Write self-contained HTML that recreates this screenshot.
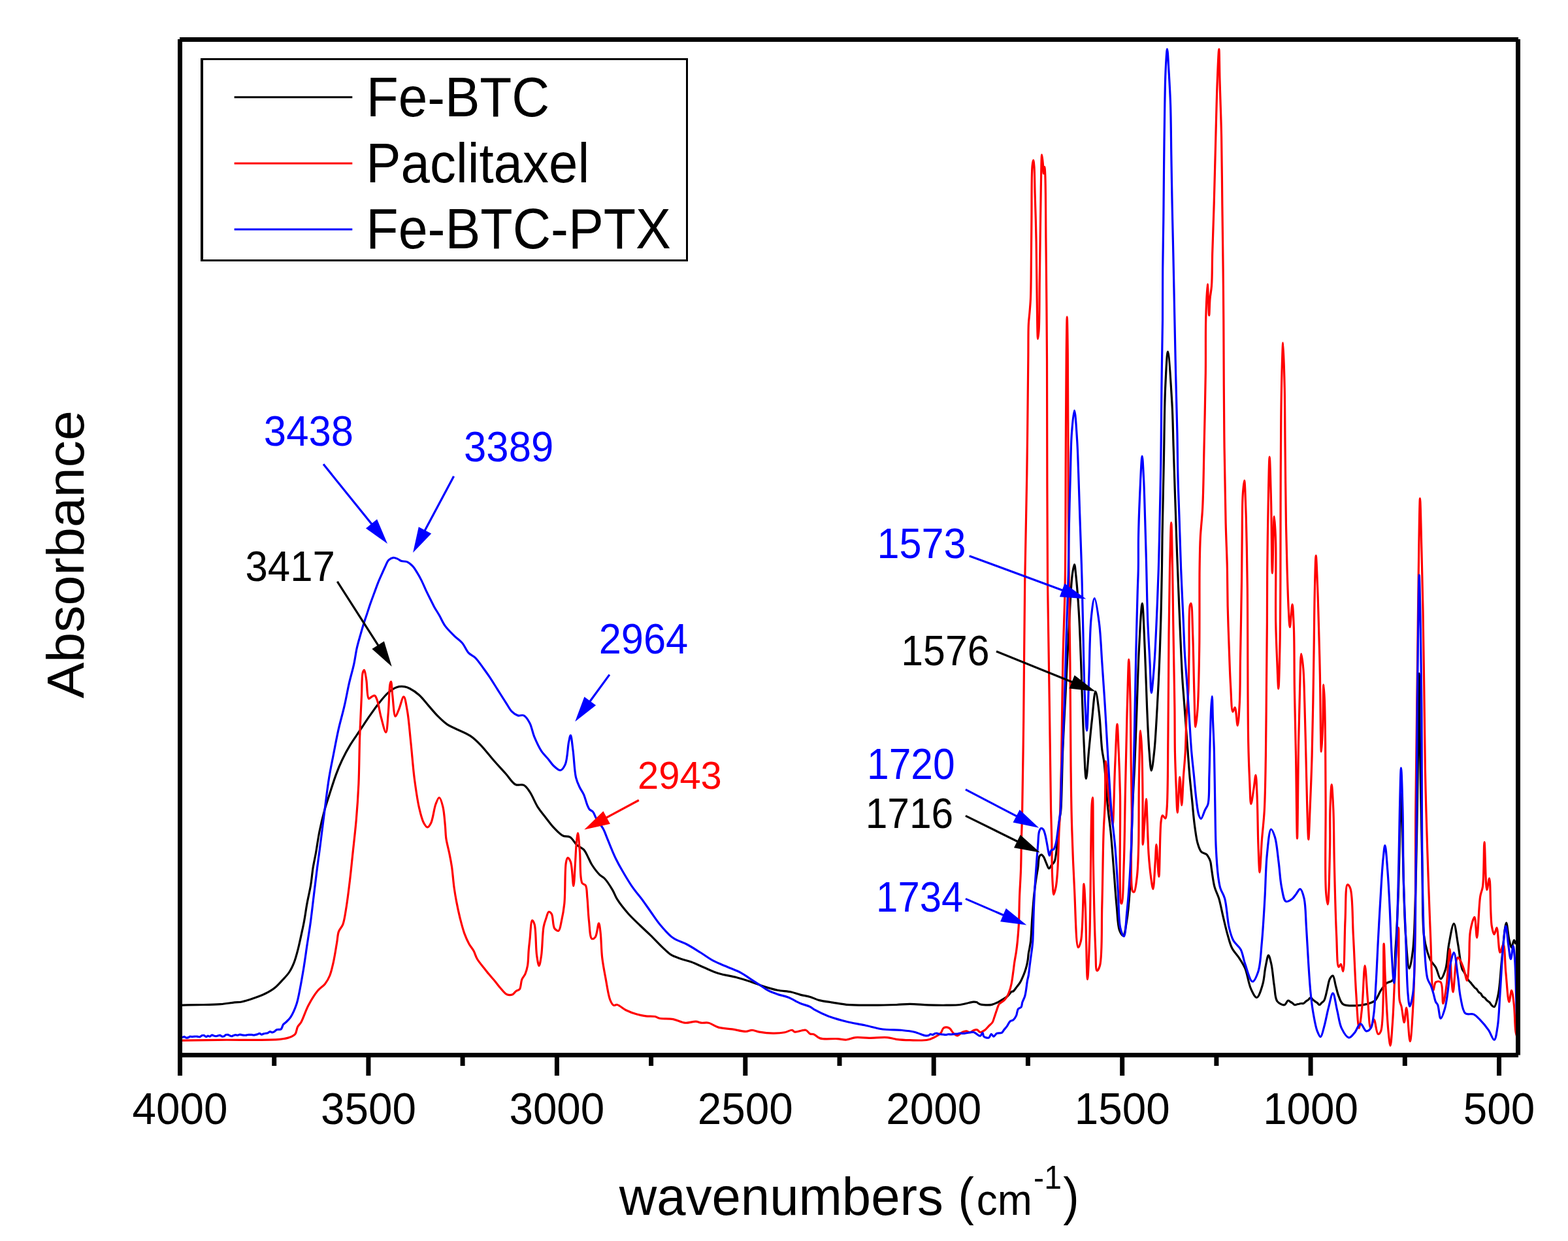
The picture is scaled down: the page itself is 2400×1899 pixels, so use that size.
<!DOCTYPE html>
<html><head><meta charset="utf-8"><title>FTIR spectra</title>
<style>
html,body{margin:0;padding:0;background:#fff;}
body{width:2400px;height:1899px;overflow:hidden;}
svg{display:block;}
text{font-family:"Liberation Sans",Arial,sans-serif;}
.tick{font-size:66px;text-anchor:middle;fill:#000;}
.leg{font-size:82px;fill:#000;}
.ytitle{font-size:81px;text-anchor:middle;fill:#000;}
.xtitle{font-size:82px;fill:#000;}
</style></head>
<body>
<svg width="2400" height="1899" viewBox="0 0 2400 1899">
<rect x="0" y="0" width="2400" height="1899" fill="#fff"/>
<path d="M279.0,1538.1C286.9,1537.9 294.1,1537.8 302.7,1537.6C313.1,1537.4 327.1,1537.5 337.3,1536.7C345.4,1536.1 353.1,1534.5 359.1,1533.9C363.4,1533.5 365.9,1533.8 370.0,1533.0C375.3,1532.0 382.2,1529.7 388.2,1527.6C394.3,1525.5 400.8,1523.1 406.4,1520.3C411.7,1517.6 416.7,1514.7 421.0,1511.2C425.1,1507.9 428.3,1504.1 431.9,1500.2C435.6,1496.2 439.8,1492.1 442.8,1487.5C445.8,1483.0 448.0,1478.1 450.1,1472.9C452.3,1467.3 453.9,1461.2 455.6,1454.7C457.5,1447.4 459.3,1438.8 461.0,1431.1C462.6,1423.7 464.2,1416.9 465.6,1409.2C467.2,1400.6 468.4,1391.0 470.1,1381.9C471.8,1372.8 474.1,1363.7 475.6,1354.6C477.1,1345.5 477.8,1335.9 479.2,1327.3C480.5,1319.5 482.0,1313.2 483.5,1305.0C485.3,1295.1 486.8,1282.9 489.0,1272.2C491.1,1261.7 493.7,1250.9 496.3,1241.4C498.6,1233.0 500.9,1226.3 503.6,1217.8C506.8,1207.8 510.8,1194.8 514.4,1185.1C517.4,1177.0 520.0,1170.6 523.5,1163.3C527.2,1155.5 531.6,1147.3 536.2,1139.7C540.7,1132.2 545.9,1125.2 550.7,1118.0C555.6,1110.7 560.4,1103.3 565.3,1096.2C570.1,1089.3 574.8,1082.4 579.8,1076.2C584.5,1070.4 589.3,1064.2 594.3,1059.9C598.4,1056.4 602.6,1053.2 607.0,1051.7C611.1,1050.3 616.1,1050.3 619.7,1050.8C622.5,1051.2 624.3,1052.1 627.0,1053.5C631.1,1055.6 636.9,1059.4 641.5,1063.5C646.6,1068.0 651.2,1074.4 656.0,1079.9C660.8,1085.3 665.5,1091.2 670.5,1096.2C675.2,1100.9 680.1,1105.6 685.0,1108.9C689.2,1111.7 692.9,1112.8 697.7,1115.2C704.1,1118.3 713.6,1121.8 720.0,1126.1C725.6,1129.9 729.4,1133.6 734.5,1138.8C741.3,1145.6 749.3,1156.3 756.3,1164.2C762.6,1171.3 768.7,1177.9 774.4,1184.2C779.5,1189.9 783.7,1197.9 789.0,1200.5C793.0,1202.5 798.1,1199.6 801.7,1201.4C805.4,1203.2 807.7,1207.1 810.7,1211.4C814.9,1217.4 818.9,1228.4 823.2,1235.1C826.7,1240.6 830.0,1244.3 833.8,1249.2C838.1,1254.7 842.9,1261.6 847.8,1266.7C852.3,1271.4 857.2,1276.8 861.9,1279.0C865.4,1280.7 869.2,1279.0 872.4,1280.8C876.4,1283.0 879.2,1289.8 883.0,1293.1C886.3,1296.0 890.6,1297.0 893.5,1300.1C896.5,1303.4 898.4,1308.4 900.5,1312.4C902.4,1316.0 903.4,1319.2 905.8,1323.0C908.9,1327.9 914.3,1335.1 918.1,1338.8C920.6,1341.2 922.7,1341.5 925.1,1344.0C928.9,1347.9 934.0,1355.9 937.4,1361.6C940.3,1366.4 941.2,1370.6 944.4,1375.7C948.7,1382.6 955.9,1391.6 962.0,1398.5C967.7,1404.9 973.8,1410.4 979.6,1416.0C985.0,1421.3 990.1,1425.7 995.6,1431.1C1001.8,1437.1 1009.3,1445.3 1015.0,1450.6C1019.1,1454.5 1022.0,1457.7 1026.1,1460.3C1030.3,1463.0 1035.0,1464.6 1040.0,1466.5C1045.6,1468.6 1051.9,1469.8 1058.1,1472.1C1064.9,1474.6 1071.9,1478.2 1078.9,1481.1C1085.8,1484.0 1092.2,1487.2 1099.8,1489.5C1108.3,1492.1 1119.0,1493.5 1127.6,1495.7C1135.1,1497.7 1141.5,1499.7 1148.4,1502.0C1155.4,1504.3 1162.3,1507.4 1169.3,1509.6C1176.2,1511.8 1183.1,1513.8 1190.1,1515.2C1197.0,1516.6 1204.8,1516.7 1211.0,1518.0C1216.1,1519.1 1220.1,1520.9 1224.8,1522.1C1229.7,1523.4 1235.1,1524.1 1240.0,1525.5C1244.8,1526.9 1248.7,1529.2 1253.9,1530.6C1260.1,1532.2 1267.8,1533.0 1274.7,1534.1C1281.7,1535.2 1287.7,1536.6 1295.6,1537.3C1305.7,1538.2 1318.2,1538.1 1330.3,1538.2C1343.6,1538.3 1360.5,1537.9 1372.0,1537.5C1380.1,1537.2 1385.4,1536.4 1392.8,1536.4C1401.4,1536.4 1411.3,1537.5 1420.6,1537.8C1429.9,1538.1 1439.8,1538.3 1448.4,1538.2C1455.9,1538.1 1463.1,1538.3 1469.3,1537.5C1474.4,1536.9 1479.4,1535.3 1483.2,1534.5C1485.9,1534.0 1487.9,1533.3 1490.0,1533.2C1491.7,1533.1 1493.2,1533.1 1494.7,1533.6C1496.3,1534.1 1497.5,1535.7 1499.4,1536.4C1501.9,1537.3 1505.6,1537.6 1508.7,1537.8C1511.8,1538.0 1515.0,1538.1 1518.1,1537.4C1521.3,1536.7 1524.4,1535.1 1527.5,1533.6C1530.7,1532.0 1534.1,1529.7 1536.8,1528.0C1538.9,1526.7 1540.6,1525.9 1542.4,1524.3C1544.4,1522.5 1546.4,1518.8 1548.1,1517.7C1549.1,1517.0 1549.9,1517.4 1550.9,1516.8C1552.4,1515.8 1553.9,1513.2 1555.5,1511.2C1557.3,1508.9 1559.6,1506.3 1561.2,1503.7C1562.7,1501.3 1563.7,1498.9 1564.9,1496.2C1566.2,1493.3 1567.6,1490.0 1568.7,1486.8C1569.8,1483.7 1570.7,1480.6 1571.5,1477.5C1572.3,1474.4 1572.8,1471.2 1573.3,1468.1C1573.8,1465.0 1573.8,1461.8 1574.3,1458.7C1574.8,1455.6 1575.6,1452.5 1576.1,1449.4C1576.7,1446.3 1577.1,1444.2 1577.6,1440.0C1578.5,1431.9 1579.0,1415.9 1579.9,1404.0C1580.8,1392.2 1581.7,1379.3 1582.8,1368.8C1583.7,1360.2 1584.7,1352.6 1585.8,1345.4C1586.7,1339.1 1587.8,1333.7 1588.7,1327.8C1589.6,1322.0 1589.3,1313.3 1591.0,1310.3C1591.8,1308.9 1593.0,1307.8 1594.0,1307.9C1595.1,1308.0 1596.5,1309.9 1597.5,1311.4C1598.9,1313.5 1599.7,1316.8 1601.0,1319.6C1602.4,1322.6 1604.1,1328.9 1605.7,1329.0C1606.9,1329.1 1607.9,1325.9 1609.2,1324.3C1610.6,1322.5 1612.8,1320.9 1613.9,1318.5C1615.3,1315.6 1615.6,1311.8 1616.2,1307.9C1617.0,1303.3 1617.4,1298.0 1618.0,1292.7C1618.6,1287.1 1619.1,1281.4 1619.7,1275.1C1620.4,1267.9 1621.3,1258.2 1622.1,1251.7C1622.7,1247.1 1623.3,1245.8 1623.8,1240.0C1625.2,1223.8 1625.5,1177.7 1626.8,1147.0C1628.0,1117.0 1629.7,1087.7 1631.2,1058.0C1632.7,1028.3 1634.0,998.7 1635.7,969.0C1637.4,939.3 1638.9,897.7 1641.2,880.0C1642.2,872.4 1643.6,863.8 1644.5,863.8C1645.4,863.8 1646.0,873.0 1646.8,880.0C1648.2,893.0 1650.0,915.5 1651.2,935.6C1652.7,959.4 1653.6,988.5 1654.6,1013.5C1655.5,1036.6 1656.0,1059.0 1656.8,1080.2C1657.5,1099.6 1658.1,1117.3 1659.0,1135.8C1659.9,1154.4 1661.0,1191.5 1662.4,1191.5C1663.7,1191.5 1665.3,1161.8 1666.8,1147.0C1668.3,1132.2 1669.6,1117.3 1671.3,1102.5C1673.0,1087.7 1674.8,1058.0 1676.8,1058.0C1678.5,1058.0 1680.9,1078.7 1682.4,1091.3C1684.4,1107.5 1685.1,1133.1 1686.8,1147.0C1687.8,1155.4 1688.9,1158.3 1690.0,1167.0C1691.9,1183.1 1693.7,1216.3 1695.7,1236.0C1697.2,1250.7 1698.8,1260.5 1700.2,1274.6C1701.9,1291.5 1703.2,1311.7 1704.7,1330.3C1706.2,1348.9 1707.4,1369.3 1709.1,1386.1C1710.5,1400.0 1710.6,1416.3 1713.6,1424.0C1715.1,1427.8 1717.6,1432.1 1719.2,1431.8C1721.6,1431.3 1723.0,1418.7 1724.5,1410.0C1726.6,1397.5 1727.9,1383.1 1729.2,1363.8C1731.4,1331.7 1732.0,1270.4 1733.5,1235.0C1734.5,1210.1 1735.7,1194.5 1736.7,1171.5C1737.9,1144.3 1739.0,1112.2 1740.1,1082.5C1741.2,1052.8 1741.9,1021.4 1743.4,993.5C1744.7,968.7 1746.8,923.4 1748.3,923.4C1749.8,923.4 1751.1,968.7 1752.3,993.5C1753.6,1021.4 1754.4,1055.0 1755.6,1082.5C1756.6,1106.3 1757.6,1131.4 1759.0,1149.2C1760.0,1161.2 1761.0,1179.2 1762.3,1179.2C1763.6,1179.2 1765.5,1161.2 1766.8,1149.2C1768.7,1131.4 1769.9,1104.7 1771.2,1082.5C1772.5,1060.2 1773.6,1038.0 1774.5,1015.7C1775.4,993.5 1776.2,972.5 1776.8,949.0C1777.5,922.6 1778.1,888.3 1778.5,865.0C1778.8,848.4 1778.7,840.1 1779.0,822.5C1779.5,793.7 1780.5,746.4 1781.3,708.3C1782.1,670.3 1782.2,625.5 1783.6,594.2C1784.6,572.2 1786.0,538.2 1787.5,538.2C1789.3,538.2 1792.4,591.6 1793.9,617.0C1795.3,640.6 1795.4,662.7 1796.2,685.5C1796.9,708.3 1797.7,731.2 1798.4,754.0C1799.2,776.8 1800.0,801.8 1800.7,822.5C1801.3,839.8 1801.8,852.2 1802.5,870.0C1803.4,893.0 1804.5,921.9 1805.7,949.0C1806.9,977.7 1808.3,1014.3 1809.7,1037.5C1810.6,1052.6 1811.6,1062.4 1812.5,1074.9C1813.4,1087.4 1814.4,1099.9 1815.3,1112.4C1816.2,1124.9 1817.2,1137.3 1818.1,1149.8C1819.0,1162.3 1819.8,1174.8 1820.9,1187.3C1822.0,1199.8 1823.4,1212.2 1824.6,1224.7C1825.9,1237.2 1826.8,1250.6 1828.4,1262.2C1829.8,1272.3 1830.9,1282.8 1833.1,1290.3C1834.7,1295.6 1836.0,1300.6 1838.7,1303.4C1840.7,1305.5 1844.4,1305.7 1846.2,1307.1C1847.5,1308.1 1848.1,1308.9 1849.0,1310.3C1850.3,1312.3 1851.8,1315.4 1852.7,1318.4C1853.7,1321.9 1853.7,1325.5 1854.5,1330.3C1855.6,1337.4 1856.9,1349.2 1859.0,1357.1C1860.8,1363.7 1863.7,1368.2 1865.7,1374.9C1868.2,1383.3 1870.1,1394.4 1872.4,1403.9C1874.6,1413.0 1876.7,1422.5 1879.1,1430.7C1881.2,1437.9 1882.6,1444.7 1885.7,1450.7C1888.6,1456.5 1893.5,1461.0 1896.9,1466.3C1900.2,1471.4 1903.2,1475.7 1905.8,1482.0C1909.3,1490.5 1911.0,1505.2 1914.7,1513.2C1917.3,1518.8 1920.8,1526.7 1923.6,1526.5C1926.9,1526.2 1930.4,1513.8 1932.6,1506.5C1935.1,1498.4 1935.3,1487.7 1937.0,1479.7C1938.4,1473.1 1939.9,1462.0 1941.5,1461.9C1942.9,1461.9 1944.6,1469.8 1945.9,1475.3C1947.9,1483.9 1948.7,1498.6 1950.4,1508.7C1951.8,1517.2 1951.3,1527.3 1954.9,1532.1C1957.5,1535.5 1963.1,1538.3 1966.0,1537.7C1968.4,1537.2 1969.8,1531.3 1971.6,1531.0C1972.8,1530.8 1973.8,1532.3 1974.9,1532.9C1976.1,1533.6 1977.2,1534.2 1978.3,1535.0C1979.4,1535.8 1980.4,1537.4 1981.6,1537.7C1982.7,1538.0 1983.8,1537.3 1984.9,1537.0C1986.1,1536.8 1987.2,1536.4 1988.3,1536.2C1989.4,1535.9 1990.5,1535.6 1991.7,1535.5C1992.8,1535.4 1993.9,1535.9 1995.0,1535.5C1996.3,1535.0 1997.4,1533.3 1998.7,1532.4C1999.9,1531.5 2001.2,1530.9 2002.4,1530.0C2003.7,1529.0 2004.9,1526.5 2006.1,1526.5C2007.2,1526.5 2008.3,1528.7 2009.4,1529.7C2010.6,1530.6 2011.7,1531.6 2012.8,1532.4C2013.9,1533.2 2015.1,1533.7 2016.2,1534.6C2017.3,1535.5 2018.4,1537.7 2019.5,1537.7C2020.7,1537.7 2021.9,1535.5 2023.1,1534.4C2024.3,1533.3 2025.6,1532.8 2026.7,1531.0C2028.6,1527.8 2029.7,1520.8 2031.1,1515.4C2032.6,1509.7 2033.4,1501.4 2035.6,1497.6C2036.9,1495.4 2038.8,1492.8 2040.1,1493.1C2042.1,1493.6 2043.0,1503.5 2044.5,1508.7C2046.0,1513.9 2047.0,1519.5 2049.0,1524.3C2050.8,1528.8 2052.0,1534.1 2055.7,1536.6C2060.2,1539.6 2069.5,1538.9 2075.7,1538.8C2081.2,1538.7 2086.4,1538.0 2091.3,1536.6C2096.0,1535.3 2101.1,1534.2 2104.7,1531.0C2108.7,1527.4 2110.4,1520.0 2113.6,1515.4C2116.4,1511.3 2119.3,1507.0 2122.6,1504.3C2125.4,1502.1 2129.3,1503.1 2131.5,1499.8C2136.4,1492.7 2134.6,1471.1 2135.9,1453.0C2137.7,1428.0 2139.2,1395.3 2140.4,1363.8C2141.7,1328.2 2142.4,1277.1 2143.2,1250.0C2143.7,1235.0 2144.0,1215.0 2144.5,1215.0C2145.0,1215.0 2145.6,1237.5 2146.0,1250.0C2146.5,1264.5 2146.5,1277.3 2147.1,1296.9C2148.0,1330.1 2149.1,1396.6 2151.5,1430.7C2153.0,1451.9 2154.9,1481.9 2157.1,1482.0C2158.8,1482.1 2161.3,1464.7 2162.7,1453.0C2164.8,1435.4 2165.0,1413.1 2166.0,1386.1C2167.5,1344.9 2168.4,1285.2 2169.4,1230.0C2170.5,1167.6 2171.5,1030.5 2172.2,1030.5C2172.8,1030.5 2172.8,1103.2 2173.5,1146.2C2174.3,1200.4 2175.9,1277.9 2177.0,1330.0C2177.8,1368.6 2176.8,1408.0 2179.4,1430.7C2180.8,1442.5 2182.8,1450.2 2185.0,1457.4C2186.5,1462.5 2187.8,1466.2 2190.0,1470.1C2192.1,1473.8 2195.3,1476.2 2197.6,1480.2C2200.4,1485.1 2202.5,1497.8 2205.1,1497.9C2207.5,1498.0 2210.7,1489.1 2212.7,1482.7C2215.6,1473.1 2215.5,1456.9 2217.7,1444.9C2219.8,1433.8 2223.0,1413.3 2225.3,1413.3C2227.6,1413.3 2229.6,1433.9 2231.6,1444.9C2233.8,1456.9 2235.3,1475.9 2237.9,1482.7C2238.9,1485.5 2240.2,1486.2 2241.3,1488.1C2242.4,1490.1 2243.5,1492.5 2244.6,1494.6C2245.7,1496.6 2246.8,1498.8 2248.0,1500.4C2249.0,1501.7 2250.1,1502.5 2251.0,1503.7C2252.1,1504.9 2253.0,1506.4 2254.1,1507.6C2255.1,1508.9 2256.1,1510.2 2257.1,1511.2C2258.1,1512.1 2259.2,1512.6 2260.2,1513.6C2261.3,1514.8 2262.1,1516.9 2263.2,1518.0C2264.2,1519.0 2265.4,1519.2 2266.3,1520.2C2267.5,1521.4 2268.3,1523.8 2269.5,1525.0C2270.5,1526.0 2271.7,1526.2 2272.7,1527.0C2273.8,1528.0 2274.6,1529.6 2275.8,1530.7C2276.9,1531.8 2278.4,1532.3 2279.6,1533.5C2280.9,1534.8 2282.0,1537.1 2283.3,1538.4C2284.5,1539.4 2285.9,1541.1 2287.1,1540.7C2289.6,1539.8 2291.7,1528.9 2293.4,1520.6C2296.0,1507.7 2296.6,1487.5 2298.5,1470.1C2300.6,1451.4 2303.3,1412.2 2305.5,1412.1C2307.0,1412.1 2308.2,1430.4 2309.8,1437.3C2311.0,1442.3 2312.3,1449.9 2313.6,1449.9C2314.8,1449.9 2316.2,1438.6 2317.4,1438.6C2318.3,1438.6 2319.1,1442.8 2319.9,1444.9" fill="none" stroke="#000000" stroke-width="3.2" stroke-linejoin="round"/>
<path d="M279.0,1592.2C297.2,1591.9 312.9,1591.6 333.6,1591.3C360.8,1590.9 410.6,1592.2 428.3,1590.4C435.3,1589.7 438.6,1589.2 442.8,1587.6C446.3,1586.3 449.8,1584.8 451.9,1582.2C454.1,1579.4 453.9,1574.4 455.6,1571.2C457.1,1568.4 459.1,1567.3 461.0,1564.0C464.3,1558.2 467.7,1546.6 472.0,1538.5C476.2,1530.5 481.6,1521.5 486.5,1515.7C490.1,1511.4 494.4,1509.5 497.4,1505.7C500.4,1501.9 502.7,1497.9 504.7,1493.0C507.1,1487.2 508.5,1480.4 510.2,1472.9C512.3,1463.7 514.2,1450.7 515.7,1442.0C516.8,1435.7 516.7,1430.4 518.4,1425.6C519.9,1421.4 523.0,1419.3 524.8,1414.7C527.4,1407.8 528.5,1397.5 530.2,1387.4C532.2,1375.0 534.1,1358.9 535.7,1345.5C537.2,1333.2 538.1,1323.2 539.5,1310.0C541.2,1293.5 543.7,1272.6 545.3,1254.1C546.9,1235.8 548.0,1219.1 548.9,1199.6C549.9,1177.1 549.9,1150.4 550.7,1127.0C551.5,1105.1 552.6,1081.5 553.5,1063.5C554.1,1050.3 553.6,1034.5 555.3,1029.0C555.9,1027.1 556.8,1025.3 557.5,1025.4C558.8,1025.6 559.7,1034.2 560.7,1039.9C562.1,1047.9 561.6,1067.6 564.4,1069.0C565.6,1069.6 567.4,1067.0 568.9,1066.2C570.4,1065.5 572.1,1064.0 573.4,1064.4C575.0,1064.9 575.9,1067.8 577.1,1070.8C579.4,1076.6 581.0,1089.4 583.4,1098.0C585.6,1106.0 588.9,1120.9 590.7,1120.7C592.7,1120.5 593.3,1101.6 594.3,1090.7C595.5,1077.6 595.6,1053.9 597.0,1047.2C597.4,1045.1 598.1,1043.1 598.5,1043.2C599.5,1043.3 599.8,1055.9 600.7,1063.5C601.9,1073.1 602.8,1095.8 605.2,1096.2C606.7,1096.4 608.8,1089.5 610.6,1085.3C613.0,1079.9 615.8,1066.1 617.9,1066.2C620.1,1066.3 621.7,1078.6 623.3,1087.1C625.7,1099.9 627.0,1119.3 628.8,1136.1C630.7,1153.8 632.0,1173.3 634.2,1190.6C636.3,1206.4 638.6,1223.3 641.5,1235.9C643.6,1245.1 645.8,1254.3 648.7,1259.5C650.4,1262.5 652.4,1265.9 654.2,1265.9C656.0,1265.9 658.0,1262.7 659.6,1259.5C662.7,1253.5 664.2,1237.5 666.9,1230.5C668.6,1226.2 670.6,1220.4 672.3,1220.5C674.2,1220.6 676.4,1228.5 677.8,1234.1C679.9,1242.2 680.6,1256.1 681.5,1265.0C682.1,1271.7 681.9,1276.4 682.8,1282.8C683.9,1290.4 686.6,1299.7 688.1,1307.4C689.5,1314.2 690.5,1319.5 691.6,1326.7C692.9,1335.9 693.8,1348.9 695.1,1358.4C696.2,1366.1 697.2,1372.1 698.6,1379.4C700.1,1387.3 701.9,1395.8 703.9,1404.0C706.0,1412.2 708.3,1421.4 710.9,1428.6C713.1,1434.5 715.4,1439.7 718.0,1444.4C720.2,1448.4 723.0,1451.2 725.0,1455.0C727.1,1458.9 727.9,1463.2 730.3,1467.3C733.0,1472.0 737.6,1477.2 740.8,1481.3C743.3,1484.6 745.2,1486.9 747.8,1490.1C750.9,1493.9 755.3,1498.6 758.4,1502.4C761.0,1505.6 762.7,1508.2 765.4,1511.2C768.5,1514.6 772.2,1520.2 775.9,1521.7C778.7,1522.9 782.3,1522.7 784.7,1521.7C786.9,1520.8 788.1,1517.8 790.0,1516.5C791.7,1515.3 793.9,1515.5 795.3,1513.8C797.5,1511.0 797.1,1503.1 798.8,1498.9C800.2,1495.5 802.6,1493.4 804.0,1490.1C805.6,1486.4 806.6,1482.7 807.5,1477.8C808.7,1471.1 808.6,1460.5 809.3,1453.2C809.8,1447.2 810.3,1443.2 811.0,1437.0C811.9,1428.8 812.6,1408.8 814.6,1408.4C815.6,1408.2 817.1,1411.4 818.1,1414.6C820.6,1422.9 819.9,1450.5 821.6,1462.0C822.6,1468.7 823.9,1477.8 825.1,1477.8C826.3,1477.8 827.6,1468.6 828.6,1462.0C830.2,1451.1 830.2,1428.2 832.1,1418.1C833.1,1412.7 834.3,1409.7 835.7,1405.8C837.0,1402.1 838.2,1395.8 840.0,1395.3C841.3,1395.0 843.1,1396.6 844.3,1398.5C846.8,1402.4 845.9,1416.7 848.8,1420.7C850.4,1422.9 853.4,1424.9 855.0,1424.2C857.4,1423.2 858.1,1415.0 859.4,1409.3C861.1,1401.8 862.7,1393.7 863.8,1383.0C865.5,1366.5 864.3,1330.2 866.4,1319.7C867.1,1316.1 867.8,1312.9 869.0,1312.7C870.2,1312.5 872.2,1315.7 873.4,1318.8C876.1,1325.7 876.6,1355.7 877.8,1355.7C878.9,1355.7 879.7,1332.4 880.4,1321.5C881.1,1311.6 881.3,1301.5 882.1,1293.1C882.7,1286.3 883.7,1274.9 884.5,1274.9C885.5,1274.9 886.5,1293.0 887.5,1303.9C888.7,1317.8 887.2,1344.7 891.0,1351.3C892.4,1353.7 895.0,1352.8 896.3,1354.9C898.6,1358.6 898.1,1366.8 898.9,1374.2C899.9,1384.2 900.2,1398.4 901.5,1409.3C902.6,1419.0 902.8,1434.9 905.9,1436.5C907.3,1437.2 909.7,1435.7 911.2,1433.9C914.0,1430.4 915.1,1412.8 916.5,1412.8C917.6,1412.8 918.4,1421.0 919.1,1426.9C920.3,1436.6 920.3,1453.3 921.7,1465.5C923.0,1476.6 925.0,1486.4 927.0,1497.1C929.1,1508.1 931.0,1523.4 934.0,1530.5C935.6,1534.3 937.2,1537.5 939.3,1538.4C940.9,1539.1 942.5,1537.1 944.6,1537.5C948.2,1538.2 953.3,1543.3 958.1,1545.7C963.2,1548.2 969.4,1550.5 974.7,1552.0C979.5,1553.4 983.9,1554.2 988.6,1554.8C993.2,1555.4 998.7,1554.7 1002.5,1555.5C1005.3,1556.1 1006.5,1557.6 1009.5,1558.3C1014.5,1559.4 1023.7,1558.4 1030.3,1559.6C1036.6,1560.8 1042.4,1564.7 1048.4,1565.2C1054.0,1565.7 1060.5,1562.8 1065.1,1563.1C1068.4,1563.3 1070.4,1564.8 1073.4,1565.2C1076.8,1565.6 1080.6,1564.4 1084.5,1565.2C1089.3,1566.2 1094.2,1570.5 1099.8,1572.1C1106.1,1573.9 1113.7,1573.9 1120.6,1574.9C1127.6,1576.0 1135.9,1578.5 1141.5,1578.4C1145.4,1578.3 1147.9,1576.2 1151.2,1576.3C1154.8,1576.4 1158.0,1578.3 1162.3,1579.1C1168.1,1580.1 1176.5,1581.1 1183.2,1581.2C1189.4,1581.3 1196.0,1580.8 1201.2,1579.8C1205.4,1579.0 1209.5,1575.9 1212.3,1576.3C1214.1,1576.6 1214.5,1578.7 1216.5,1579.1C1220.1,1579.9 1229.0,1575.2 1233.2,1576.3C1236.2,1577.1 1237.7,1581.0 1240.0,1582.0C1241.8,1582.8 1243.6,1582.0 1245.6,1582.7C1248.5,1583.7 1251.0,1587.6 1255.3,1588.9C1261.7,1590.9 1274.3,1589.1 1281.7,1589.6C1287.1,1589.9 1291.0,1591.3 1295.6,1591.0C1300.3,1590.7 1304.4,1588.1 1309.5,1587.6C1315.7,1587.0 1322.9,1588.3 1330.3,1588.3C1338.9,1588.3 1350.5,1587.0 1358.1,1587.6C1363.6,1588.1 1366.9,1589.6 1372.0,1590.3C1378.2,1591.1 1385.4,1591.5 1392.8,1591.7C1401.4,1591.9 1413.1,1592.7 1420.6,1591.0C1426.2,1589.7 1431.0,1586.9 1434.5,1584.8C1436.9,1583.4 1438.5,1582.4 1440.1,1580.6C1441.9,1578.6 1442.2,1574.3 1444.3,1573.0C1446.4,1571.8 1450.2,1571.9 1452.6,1573.0C1455.4,1574.3 1457.2,1579.2 1459.5,1581.3C1461.3,1582.9 1463.1,1584.8 1465.1,1584.8C1467.6,1584.8 1470.8,1580.4 1473.4,1579.2C1475.4,1578.3 1477.2,1577.7 1479.0,1577.8C1480.9,1577.9 1482.7,1580.0 1484.5,1579.9C1486.4,1579.7 1488.1,1577.4 1490.0,1576.7C1491.8,1576.1 1493.9,1575.4 1495.6,1575.8C1497.3,1576.3 1498.5,1579.3 1500.3,1579.5C1502.2,1579.8 1504.8,1578.1 1506.9,1576.7C1509.2,1575.1 1511.3,1572.2 1513.4,1570.1C1515.3,1568.2 1517.6,1566.7 1519.0,1564.5C1520.4,1562.3 1520.8,1559.8 1521.8,1557.0C1523.0,1553.6 1524.3,1549.4 1525.6,1545.8C1526.8,1542.5 1527.4,1538.9 1529.3,1536.4C1531.2,1534.0 1534.8,1532.7 1536.8,1530.8C1538.4,1529.3 1539.4,1527.9 1540.6,1526.1C1542.0,1524.0 1543.2,1521.6 1544.3,1518.7C1545.7,1515.0 1547.1,1510.3 1548.1,1505.5C1549.3,1499.8 1550.1,1492.6 1550.9,1486.8C1551.6,1481.8 1552.0,1477.7 1552.7,1472.8C1553.5,1467.4 1554.7,1461.5 1555.5,1455.9C1556.3,1450.5 1556.8,1446.0 1557.4,1440.0C1558.1,1432.4 1558.9,1423.6 1559.4,1413.9C1560.0,1401.8 1560.0,1386.6 1560.5,1373.0C1561.0,1359.3 1562.0,1346.4 1562.5,1332.0C1563.1,1315.9 1563.1,1295.6 1563.5,1280.7C1563.8,1269.2 1564.2,1264.1 1564.5,1250.0C1565.2,1219.2 1566.0,1156.1 1566.7,1102.5C1567.5,1038.1 1567.8,956.4 1568.7,890.0C1569.5,831.4 1571.0,780.3 1571.8,724.4C1572.7,667.0 1573.3,591.8 1573.8,550.0C1574.1,526.6 1573.7,508.0 1574.4,495.1C1574.8,488.0 1575.4,484.6 1575.9,478.7C1576.5,471.8 1577.1,465.2 1577.5,456.1C1578.1,442.5 1578.1,423.2 1578.3,404.9C1578.6,383.9 1578.6,361.0 1578.9,337.3C1579.2,311.1 1578.7,268.1 1580.0,254.3C1580.4,249.7 1581.1,245.1 1581.6,245.1C1582.1,245.1 1582.6,250.7 1583.0,255.3C1583.7,264.4 1583.7,283.4 1584.1,296.3C1584.4,307.8 1584.8,317.6 1585.1,329.1C1585.5,342.0 1585.8,354.2 1586.1,370.1C1586.5,392.3 1586.7,424.4 1587.1,450.0C1587.5,473.7 1587.7,518.6 1588.6,518.6C1589.0,518.6 1589.8,510.2 1590.2,503.3C1591.1,488.8 1590.9,459.3 1591.2,435.7C1591.6,409.7 1591.9,379.7 1592.3,353.7C1592.6,330.1 1592.9,306.8 1593.3,286.1C1593.7,268.4 1593.9,236.9 1594.7,236.9C1595.2,236.9 1596.0,246.4 1596.4,251.2C1596.9,256.0 1596.9,265.6 1597.4,265.6C1597.8,265.6 1598.4,255.3 1598.8,255.3C1599.2,255.3 1599.5,261.6 1599.8,267.6C1600.6,284.5 1600.6,331.3 1600.9,363.9C1601.3,397.5 1601.6,434.0 1601.9,466.4C1602.1,495.7 1602.3,512.7 1602.5,550.0C1602.9,625.1 1602.6,789.9 1603.5,890.0C1604.2,969.1 1605.8,1039.3 1606.7,1102.5C1607.4,1153.3 1607.9,1206.2 1608.6,1240.0C1609.0,1259.7 1609.5,1271.3 1609.8,1286.9C1610.1,1302.5 1610.0,1320.8 1610.4,1333.7C1610.7,1342.8 1611.0,1350.6 1611.5,1357.1C1611.8,1361.7 1611.9,1368.7 1612.7,1368.8C1613.5,1368.9 1615.3,1361.7 1616.2,1357.1C1617.5,1350.7 1618.0,1341.5 1618.6,1333.7C1619.2,1325.9 1619.4,1318.9 1619.7,1310.3C1620.1,1299.8 1620.4,1286.8 1620.9,1275.1C1621.4,1263.4 1622.2,1253.7 1622.7,1240.0C1623.4,1220.5 1623.9,1197.4 1624.5,1169.2C1625.3,1127.4 1625.8,1062.4 1626.8,1013.5C1627.7,969.9 1629.5,935.4 1630.2,890.0C1631.1,834.3 1630.9,764.0 1631.2,704.0C1631.5,647.6 1631.7,580.1 1632.2,540.0C1632.5,516.7 1632.9,484.8 1633.2,484.8C1633.6,484.8 1634.0,515.0 1634.3,540.0C1634.9,592.7 1634.9,721.4 1635.3,786.0C1635.6,828.0 1635.9,853.8 1636.3,890.0C1636.7,929.4 1637.5,970.0 1637.9,1013.5C1638.4,1062.4 1638.5,1124.3 1639.0,1169.2C1639.4,1203.5 1639.6,1229.0 1640.5,1260.0C1641.4,1292.5 1642.8,1327.6 1644.5,1360.0C1646.1,1390.7 1646.8,1449.1 1650.3,1449.7C1651.5,1449.9 1653.3,1444.8 1654.5,1439.6C1657.8,1425.0 1657.7,1352.6 1659.0,1352.6C1659.8,1352.6 1660.5,1371.6 1661.2,1386.0C1662.5,1412.5 1663.2,1498.7 1664.5,1498.7C1665.5,1498.7 1666.9,1459.4 1667.9,1430.7C1669.5,1381.5 1669.5,1254.0 1671.2,1230.0C1671.6,1224.7 1672.1,1220.4 1672.4,1220.4C1673.5,1220.5 1672.8,1283.8 1673.4,1319.2C1674.1,1360.4 1675.4,1423.6 1676.8,1453.0C1677.5,1467.4 1676.9,1484.8 1679.0,1485.3C1680.1,1485.6 1682.3,1481.8 1683.5,1477.5C1687.4,1463.9 1685.9,1418.1 1686.8,1386.1C1687.8,1350.8 1688.1,1303.4 1689.1,1274.6C1689.7,1256.4 1690.7,1246.3 1691.3,1230.0C1692.0,1210.3 1691.5,1164.8 1692.5,1164.8C1693.4,1164.8 1695.1,1200.4 1696.7,1216.0C1698.1,1229.2 1700.1,1244.1 1701.3,1252.3C1701.9,1256.6 1702.5,1262.0 1703.0,1262.0C1704.6,1261.9 1705.4,1199.0 1706.7,1171.5C1707.8,1148.5 1709.0,1108.0 1710.0,1108.0C1710.8,1108.0 1711.5,1133.8 1712.2,1149.2C1713.1,1168.8 1713.9,1188.8 1714.5,1216.0C1715.4,1258.9 1712.3,1373.3 1715.8,1381.6C1716.1,1382.4 1716.6,1382.8 1716.9,1382.7C1719.1,1381.9 1719.4,1342.9 1720.3,1319.2C1721.4,1289.0 1721.6,1250.1 1722.3,1216.0C1723.0,1182.4 1723.9,1142.5 1724.5,1115.8C1724.9,1098.0 1725.1,1087.4 1725.6,1071.3C1726.2,1052.3 1727.1,1009.0 1727.8,1009.0C1728.5,1009.0 1729.5,1048.1 1730.0,1071.3C1730.7,1100.7 1730.8,1141.3 1731.2,1171.5C1731.6,1196.5 1732.0,1213.8 1732.3,1240.0C1732.8,1275.2 1728.9,1356.4 1733.6,1363.8C1734.3,1364.9 1735.2,1365.3 1735.9,1364.9C1738.0,1363.8 1739.2,1350.6 1740.3,1341.5C1741.8,1329.1 1742.1,1314.8 1742.6,1296.9C1743.4,1269.6 1742.8,1225.4 1743.4,1193.7C1743.9,1166.5 1744.6,1118.1 1745.6,1118.1C1746.2,1118.1 1747.3,1136.9 1747.8,1149.2C1748.6,1167.3 1748.7,1193.0 1749.0,1216.0C1749.3,1240.6 1748.5,1292.4 1749.3,1292.4C1749.8,1292.4 1750.7,1273.9 1751.5,1263.4C1752.4,1251.0 1753.7,1222.6 1754.5,1222.6C1755.1,1222.6 1755.4,1240.9 1755.9,1252.3C1756.6,1268.0 1757.1,1291.8 1758.2,1308.0C1759.1,1320.6 1760.2,1331.9 1761.5,1341.5C1762.5,1348.7 1763.9,1360.4 1764.9,1360.4C1766.3,1360.3 1767.3,1331.5 1768.2,1319.2C1768.9,1309.3 1769.3,1292.4 1770.0,1292.4C1771.0,1292.4 1772.7,1341.5 1773.8,1341.5C1775.2,1341.5 1775.1,1270.6 1777.1,1256.8C1777.8,1252.2 1778.1,1248.2 1779.4,1247.8C1780.5,1247.5 1782.7,1252.6 1783.8,1252.3C1785.4,1251.8 1785.4,1245.0 1786.0,1238.0C1787.7,1218.5 1787.4,1167.1 1787.9,1127.0C1788.5,1079.5 1788.5,1017.6 1789.0,971.2C1789.4,933.8 1789.8,900.7 1790.5,870.0C1791.1,844.4 1792.0,799.6 1792.7,799.6C1793.4,799.6 1794.1,845.9 1794.6,870.0C1795.1,895.6 1795.3,923.8 1795.7,949.0C1796.1,972.2 1796.4,993.5 1796.8,1015.7C1797.2,1038.0 1797.6,1060.2 1797.9,1082.5C1798.2,1104.9 1798.0,1128.4 1798.4,1149.8C1798.8,1169.4 1799.6,1189.2 1800.3,1206.0C1800.9,1219.7 1801.4,1243.4 1802.2,1243.4C1803.2,1243.4 1804.8,1189.1 1805.9,1189.1C1806.9,1189.1 1807.8,1232.2 1808.7,1232.2C1809.6,1232.2 1810.5,1201.6 1811.5,1187.3C1812.4,1174.2 1813.6,1163.6 1814.3,1149.8C1815.2,1133.0 1815.3,1110.4 1816.2,1093.6C1816.9,1079.9 1818.4,1069.9 1819.0,1056.2C1819.8,1039.4 1819.6,1020.0 1820.0,1000.0C1820.4,977.2 1819.2,935.2 1821.3,926.7C1821.8,924.8 1822.5,923.3 1823.0,923.4C1824.8,923.8 1825.0,952.8 1825.7,971.2C1826.7,996.3 1827.1,1034.5 1827.9,1060.2C1828.5,1079.9 1828.8,1112.4 1829.9,1112.4C1830.7,1112.4 1832.2,1096.4 1833.1,1084.3C1834.6,1062.7 1835.2,1026.1 1835.7,993.5C1836.3,955.5 1835.7,901.5 1836.1,870.0C1836.4,850.5 1836.5,838.2 1837.3,822.5C1838.1,807.1 1839.8,794.7 1840.7,776.8C1842.0,751.6 1842.3,717.6 1843.0,685.5C1843.8,649.6 1844.9,606.2 1845.3,571.3C1845.7,541.8 1845.1,514.2 1845.7,489.7C1846.2,469.6 1847.3,434.8 1848.2,434.8C1849.0,434.8 1850.0,482.6 1850.7,482.6C1851.2,482.6 1851.3,465.4 1852.0,457.5C1852.6,450.4 1853.9,445.6 1854.5,437.4C1855.5,424.4 1855.2,405.5 1855.7,387.0C1856.3,364.4 1857.4,338.5 1858.2,311.6C1859.1,280.5 1859.9,243.4 1860.8,211.0C1861.6,180.7 1862.3,147.8 1863.3,122.9C1864.0,104.5 1865.2,75.1 1865.8,75.1C1866.4,75.1 1866.5,104.6 1867.0,122.9C1867.7,147.8 1869.0,180.7 1869.6,211.0C1870.3,243.4 1870.4,278.1 1870.8,311.6C1871.2,345.1 1871.8,380.9 1872.1,412.2C1872.4,439.7 1872.6,458.8 1872.8,489.7C1873.1,535.9 1873.2,608.3 1873.8,662.6C1874.3,710.9 1875.2,761.5 1876.1,799.6C1876.8,826.9 1877.9,847.8 1878.4,870.0C1878.8,889.9 1878.7,907.0 1879.1,926.7C1879.6,948.1 1880.5,972.3 1881.3,993.5C1882.0,1012.9 1882.5,1032.1 1883.6,1049.1C1884.5,1063.5 1884.8,1088.7 1886.9,1089.1C1887.8,1089.3 1889.2,1082.4 1890.2,1082.6C1892.1,1082.9 1893.1,1110.3 1894.3,1110.3C1895.6,1110.3 1896.7,1088.0 1897.4,1074.4C1898.3,1056.7 1898.1,1033.5 1898.4,1013.0C1898.8,992.5 1899.1,972.0 1899.5,951.5C1899.8,931.0 1900.2,910.6 1900.5,890.0C1900.8,869.4 1900.8,849.2 1901.1,827.9C1901.4,805.2 1901.2,774.4 1902.2,757.6C1902.8,748.1 1903.9,735.4 1904.6,735.4C1905.6,735.4 1906.3,765.7 1906.9,781.0C1907.5,796.5 1907.7,810.6 1908.1,827.9C1908.6,849.4 1909.0,869.0 1909.3,900.0C1909.9,956.0 1909.6,1082.7 1910.7,1135.9C1911.2,1163.0 1912.0,1180.1 1912.8,1197.4C1913.4,1210.0 1913.6,1230.1 1914.8,1230.2C1915.8,1230.3 1917.7,1215.1 1918.9,1207.6C1920.1,1200.4 1921.2,1186.1 1922.0,1186.1C1923.0,1186.1 1923.5,1205.1 1924.1,1217.9C1925.0,1237.5 1925.1,1271.0 1925.9,1292.4C1926.5,1308.5 1927.2,1334.8 1928.1,1334.8C1929.0,1334.8 1930.2,1301.8 1931.4,1285.7C1932.6,1270.2 1934.3,1257.5 1935.3,1240.0C1936.6,1216.3 1936.9,1185.7 1937.4,1156.4C1938.0,1124.0 1938.1,1088.1 1938.4,1053.9C1938.7,1019.8 1939.2,983.2 1939.4,951.5C1939.6,924.1 1939.4,903.0 1939.7,874.7C1940.0,839.8 1940.7,789.9 1941.4,757.6C1941.9,734.7 1942.5,699.1 1943.2,699.1C1943.9,699.1 1944.9,743.4 1945.6,769.3C1946.4,801.4 1946.5,877.0 1947.4,877.0C1948.2,877.0 1949.2,790.4 1950.3,790.4C1951.0,790.4 1952.1,811.8 1952.6,827.9C1953.5,857.2 1952.1,917.4 1952.7,951.5C1953.1,975.5 1954.0,994.6 1954.8,1013.0C1955.4,1028.0 1956.2,1053.9 1956.8,1053.9C1957.6,1053.9 1958.4,1015.6 1958.9,992.5C1959.6,962.7 1959.7,925.6 1959.9,890.0C1960.1,851.4 1960.0,810.2 1960.1,769.3C1960.2,727.1 1960.4,677.0 1960.8,640.5C1961.1,613.6 1961.4,591.2 1962.0,570.3C1962.5,553.4 1963.2,524.6 1963.8,524.6C1964.6,524.6 1965.7,568.9 1966.2,593.7C1966.8,622.6 1966.7,654.4 1967.1,687.4C1967.5,724.2 1967.9,770.3 1968.5,804.4C1969.0,830.8 1969.5,852.6 1970.2,874.7C1970.8,894.5 1971.4,915.4 1972.2,931.0C1972.8,942.2 1973.4,959.7 1974.3,959.7C1975.3,959.7 1977.0,924.8 1978.0,924.8C1979.0,924.8 1979.8,946.6 1980.4,961.7C1981.3,985.5 1980.9,1022.4 1981.4,1053.9C1981.9,1087.2 1982.8,1120.4 1983.5,1156.4C1984.2,1196.4 1984.8,1283.0 1985.5,1283.0C1986.2,1283.0 1986.8,1177.8 1987.6,1135.9C1988.2,1104.6 1988.8,1078.3 1989.6,1053.9C1990.2,1034.3 1990.5,1000.8 1991.7,1000.7C1992.5,1000.7 1994.0,1014.2 1994.8,1023.2C1996.0,1036.8 1996.2,1055.3 1996.8,1074.4C1997.6,1098.5 1998.2,1128.9 1998.9,1156.4C1999.6,1184.1 2000.1,1216.5 2000.9,1240.0C2001.5,1257.2 2002.1,1284.6 2002.8,1284.6C2003.5,1284.6 2004.3,1257.2 2005.0,1240.0C2006.0,1216.5 2007.2,1188.9 2008.1,1156.4C2009.4,1110.9 2010.4,1037.8 2011.1,992.5C2011.6,960.5 2011.6,935.7 2012.2,910.5C2012.7,888.8 2013.4,850.1 2014.2,850.1C2014.8,850.1 2015.7,875.3 2016.3,890.0C2017.1,908.3 2017.7,929.5 2018.3,951.5C2019.0,976.8 2019.9,1006.1 2020.4,1033.4C2020.9,1060.7 2021.0,1093.8 2021.4,1115.4C2021.7,1129.4 2021.9,1150.2 2022.4,1150.2C2022.9,1150.2 2024.0,1128.9 2024.5,1115.4C2025.3,1096.6 2025.2,1047.8 2025.9,1047.8C2026.3,1047.8 2027.1,1063.7 2027.5,1074.4C2028.1,1090.7 2028.3,1113.2 2028.6,1135.9C2028.9,1163.9 2029.0,1195.9 2029.1,1230.0C2029.3,1270.7 2027.7,1339.0 2029.5,1363.8C2030.2,1373.4 2031.5,1383.8 2032.3,1383.8C2034.0,1383.7 2035.0,1322.8 2035.6,1296.9C2036.1,1275.9 2035.4,1257.2 2035.9,1240.0C2036.4,1225.6 2037.4,1200.5 2038.2,1200.5C2039.0,1200.5 2040.2,1224.6 2040.9,1240.0C2041.8,1261.8 2041.6,1290.6 2042.3,1319.2C2043.1,1353.2 2044.1,1401.1 2045.6,1430.7C2046.6,1450.4 2046.3,1478.9 2049.0,1479.7C2049.9,1480.0 2051.3,1475.1 2052.3,1475.3C2053.7,1475.5 2054.8,1486.5 2055.7,1486.4C2058.1,1486.1 2057.8,1432.1 2059.0,1408.4C2060.0,1388.5 2059.1,1354.7 2062.4,1353.7C2063.6,1353.3 2065.6,1356.1 2066.8,1359.3C2070.7,1369.5 2069.9,1405.6 2071.3,1430.7C2072.9,1458.8 2074.0,1494.0 2075.7,1519.9C2077.0,1540.0 2078.4,1573.3 2080.2,1573.4C2081.5,1573.4 2083.4,1554.5 2084.7,1542.2C2086.6,1524.6 2087.5,1477.5 2089.1,1477.5C2090.5,1477.5 2092.0,1514.2 2093.6,1531.0C2095.0,1546.0 2095.6,1573.1 2098.0,1573.4C2099.4,1573.6 2101.4,1559.9 2103.0,1560.0C2105.1,1560.1 2106.6,1581.6 2109.2,1582.3C2110.5,1582.6 2112.3,1580.8 2113.6,1577.8C2119.4,1564.2 2116.8,1444.0 2118.1,1444.0C2118.9,1444.0 2119.3,1478.1 2120.3,1497.6C2121.5,1521.2 2123.0,1556.9 2124.8,1575.6C2125.8,1586.1 2127.1,1600.1 2128.1,1600.1C2129.3,1600.1 2130.4,1579.1 2131.5,1564.5C2133.2,1541.5 2134.2,1501.6 2135.9,1475.3C2137.3,1454.5 2139.3,1419.5 2140.4,1419.5C2141.9,1419.5 2139.6,1514.6 2142.2,1531.0C2143.0,1535.8 2144.1,1536.2 2145.0,1540.0C2146.5,1546.1 2148.0,1564.5 2149.3,1564.5C2150.5,1564.5 2151.5,1542.2 2152.7,1542.2C2154.5,1542.2 2156.5,1593.4 2158.2,1593.4C2159.9,1593.4 2161.5,1562.6 2162.7,1542.2C2164.5,1512.2 2165.3,1472.8 2166.0,1430.7C2166.9,1375.6 2166.3,1296.8 2166.8,1240.0C2167.2,1194.1 2167.8,1156.9 2168.3,1115.7C2168.8,1074.9 2169.3,1034.6 2169.8,994.0C2170.3,953.4 2170.7,911.7 2171.3,872.2C2171.9,834.7 2172.7,762.6 2173.5,762.6C2174.2,762.6 2175.2,814.5 2175.9,841.8C2176.7,871.2 2177.4,900.5 2178.0,933.1C2178.7,970.8 2179.2,1014.3 2179.8,1054.9C2180.4,1095.5 2180.8,1142.6 2181.4,1176.6C2181.9,1201.1 2182.2,1216.4 2182.9,1240.0C2183.7,1269.9 2185.0,1308.8 2186.1,1341.5C2187.2,1372.2 2188.2,1401.3 2189.5,1430.7C2190.8,1459.3 2191.1,1515.2 2193.8,1515.5C2194.9,1515.6 2195.2,1504.7 2197.6,1502.9C2199.4,1501.5 2203.2,1501.2 2205.1,1502.9C2209.1,1506.4 2207.3,1535.6 2208.9,1535.7C2210.3,1535.7 2212.5,1518.9 2214.0,1508.0C2216.1,1492.7 2217.7,1452.4 2219.0,1452.4C2220.1,1452.4 2220.5,1483.3 2221.5,1495.3C2222.3,1504.1 2223.1,1518.0 2224.1,1518.0C2225.5,1518.0 2226.9,1477.8 2229.1,1470.1C2229.9,1467.5 2230.6,1465.2 2231.6,1465.1C2232.7,1465.0 2234.2,1468.0 2235.4,1470.1C2237.2,1473.3 2238.9,1478.1 2240.5,1482.7C2242.3,1488.1 2244.2,1500.5 2245.5,1500.4C2247.1,1500.3 2247.7,1481.2 2248.5,1470.1C2249.5,1456.5 2248.4,1436.9 2250.5,1424.7C2251.9,1416.1 2255.3,1403.2 2256.9,1403.3C2258.8,1403.5 2259.4,1434.8 2260.6,1434.8C2262.3,1434.8 2263.4,1385.5 2265.7,1371.7C2266.8,1364.9 2268.5,1363.5 2269.5,1356.6C2271.6,1342.1 2271.0,1288.5 2272.0,1288.5C2273.1,1288.5 2273.7,1361.4 2275.8,1361.6C2276.9,1361.7 2278.6,1343.9 2279.6,1344.0C2281.7,1344.2 2280.8,1402.9 2283.3,1417.1C2284.3,1423.1 2285.8,1429.7 2287.1,1429.7C2288.3,1429.7 2289.8,1419.6 2290.9,1419.7C2293.1,1419.9 2293.6,1457.2 2296.0,1457.5C2297.4,1457.7 2299.7,1444.7 2301.0,1444.9C2303.4,1445.2 2303.4,1473.3 2304.8,1487.8C2306.3,1502.7 2307.9,1533.1 2309.8,1533.2C2311.0,1533.3 2312.4,1515.5 2313.6,1515.5C2315.0,1515.5 2316.4,1529.5 2317.4,1538.2C2318.7,1549.7 2318.5,1569.7 2319.9,1578.6C2320.6,1583.1 2321.6,1585.3 2322.4,1588.7" fill="none" stroke="#ff0000" stroke-width="3.2" stroke-linejoin="round"/>
<path d="M279.0,1587.6C280.0,1587.2 281.0,1586.4 282.0,1586.4C283.0,1586.5 284.0,1587.9 285.0,1588.0C286.0,1588.2 287.0,1587.9 288.0,1587.6C289.0,1587.3 290.0,1586.2 291.0,1586.0C292.0,1585.9 293.0,1586.4 294.0,1586.4C295.0,1586.5 296.0,1586.2 297.0,1586.1C298.0,1586.0 299.0,1586.0 300.0,1586.0C301.0,1586.0 302.0,1586.2 303.1,1586.3C304.1,1586.4 305.1,1586.8 306.1,1586.6C307.2,1586.3 308.1,1585.0 309.2,1584.6C310.1,1584.3 311.2,1584.1 312.2,1584.4C313.3,1584.6 314.2,1586.3 315.3,1586.4C316.3,1586.5 317.3,1585.3 318.3,1585.2C319.3,1585.2 320.4,1586.2 321.4,1586.0C322.4,1585.8 323.4,1584.0 324.4,1583.9C325.4,1583.8 326.5,1584.7 327.5,1585.0C328.5,1585.2 329.5,1585.6 330.5,1585.6C331.6,1585.6 332.6,1585.1 333.6,1584.9C334.6,1584.7 335.7,1584.0 336.6,1584.1C337.7,1584.3 338.6,1585.7 339.7,1586.0C340.6,1586.2 341.7,1586.1 342.7,1585.8C343.8,1585.4 344.7,1583.9 345.7,1583.5C346.7,1583.1 347.8,1583.2 348.8,1583.4C349.8,1583.6 350.8,1584.3 351.8,1584.7C352.8,1585.1 353.8,1585.8 354.8,1585.7C355.9,1585.6 356.8,1584.5 357.9,1584.2C358.9,1583.9 359.9,1583.7 360.9,1583.7C361.9,1583.7 362.9,1584.3 363.9,1584.2C365.0,1584.1 365.9,1583.2 367.0,1583.1C368.0,1583.0 369.0,1583.4 370.0,1583.6C371.0,1583.7 372.0,1584.0 373.0,1584.1C374.0,1584.2 375.1,1584.3 376.1,1584.2C377.1,1584.1 378.1,1583.6 379.1,1583.5C380.1,1583.3 381.1,1583.4 382.1,1583.4C383.1,1583.4 384.2,1583.2 385.2,1583.3C386.2,1583.4 387.2,1584.0 388.2,1584.0C389.2,1584.0 390.2,1583.7 391.2,1583.4C392.3,1583.2 393.3,1582.9 394.3,1582.6C395.3,1582.2 396.3,1581.3 397.3,1581.4C398.3,1581.5 399.3,1583.0 400.3,1583.1C401.3,1583.1 402.3,1582.2 403.4,1581.9C404.4,1581.6 405.4,1581.5 406.4,1581.3C407.5,1581.1 408.7,1581.2 409.8,1580.8C411.0,1580.3 412.0,1578.8 413.2,1578.7C414.3,1578.5 415.4,1579.8 416.6,1579.8C417.7,1579.8 418.9,1579.2 419.9,1578.6C421.1,1577.9 422.1,1576.3 423.3,1575.7C424.4,1575.3 425.6,1575.5 426.7,1575.4C427.8,1575.2 429.1,1575.6 430.1,1574.9C431.6,1573.8 432.3,1569.4 433.7,1567.6C434.8,1566.2 436.2,1565.6 437.4,1564.5C438.6,1563.4 439.8,1562.2 441.0,1560.9C442.3,1559.6 443.4,1558.8 444.7,1556.7C447.3,1552.6 451.4,1543.8 453.8,1536.7C456.3,1529.3 457.5,1521.5 459.2,1513.0C461.1,1503.4 462.9,1492.8 464.7,1482.0C466.6,1470.4 468.3,1457.7 470.1,1445.6C471.9,1433.5 473.9,1422.0 475.6,1409.2C477.5,1394.9 479.3,1378.0 481.1,1363.7C482.7,1350.9 484.1,1338.6 485.6,1327.3C486.9,1317.5 487.9,1310.7 489.3,1300.0C491.3,1284.8 493.9,1263.3 496.3,1245.0C498.7,1226.8 500.9,1207.1 503.6,1190.6C505.8,1176.7 508.4,1165.0 510.8,1152.5C513.2,1140.2 515.4,1128.3 518.1,1116.2C520.8,1104.1 524.5,1091.9 527.2,1079.9C529.9,1068.3 531.9,1056.4 534.4,1045.4C536.7,1035.3 539.7,1025.7 541.7,1016.3C543.6,1007.6 544.6,998.6 546.4,990.9C547.9,984.3 549.6,978.7 551.3,972.8C552.9,967.1 554.4,961.7 556.1,956.2C557.8,950.6 559.8,945.1 561.7,939.5C563.5,933.9 565.3,928.2 567.2,922.8C569.0,917.6 570.9,912.6 572.8,907.5C574.7,902.4 576.5,897.1 578.4,892.3C580.2,887.9 582.0,883.9 583.9,879.7C585.7,875.5 587.6,871.1 589.5,867.2C591.3,863.5 592.6,859.1 595.0,856.8C597.0,854.9 599.6,853.5 602.0,853.3C604.3,853.1 606.8,854.5 608.9,855.4C610.9,856.3 612.4,857.9 614.5,858.6C616.9,859.4 620.2,858.5 622.8,859.6C625.8,860.8 628.7,863.3 631.2,865.9C633.9,868.6 635.9,872.1 638.1,875.6C640.5,879.4 642.9,883.7 645.1,888.1C647.5,892.9 649.7,898.4 652.0,903.4C654.3,908.2 656.7,912.9 658.9,917.3C660.9,921.2 662.4,924.5 664.5,928.4C666.9,932.8 670.1,937.5 672.8,942.3C675.6,947.3 677.7,952.7 681.2,957.6C685.0,962.9 690.5,968.2 695.1,972.8C699.3,976.9 703.9,979.7 707.6,984.0C711.4,988.5 713.6,995.3 717.3,999.2C720.3,1002.4 724.0,1003.1 727.3,1006.3C731.6,1010.4 736.2,1017.5 740.0,1022.7C743.3,1027.2 745.8,1030.6 749.0,1035.4C752.9,1041.2 757.5,1048.7 761.7,1055.3C765.9,1062.0 770.5,1069.3 774.4,1075.3C777.7,1080.3 780.1,1085.5 783.5,1088.9C786.3,1091.7 789.4,1093.9 792.6,1094.9C795.5,1095.8 799.0,1093.6 801.7,1094.9C805.2,1096.6 808.2,1101.6 810.7,1106.2C813.9,1112.0 815.0,1120.8 818.0,1127.9C821.1,1135.3 824.9,1143.6 828.9,1149.7C832.3,1154.7 836.6,1158.5 839.8,1162.4C842.5,1165.7 844.1,1168.8 847.0,1171.5C850.1,1174.3 854.8,1179.2 857.9,1178.7C860.8,1178.3 863.3,1174.0 865.2,1169.7C868.5,1162.2 868.9,1143.2 870.6,1135.2C871.6,1130.8 872.5,1125.1 873.4,1125.2C874.7,1125.3 875.8,1139.2 877.0,1147.9C878.6,1159.7 879.1,1179.4 881.5,1189.6C883.0,1195.8 884.9,1199.7 887.0,1204.2C888.9,1208.4 891.6,1211.5 893.5,1215.8C895.6,1220.6 897.1,1227.4 898.8,1231.6C900.0,1234.5 900.7,1236.8 902.3,1238.6C903.7,1240.2 906.0,1240.4 907.5,1242.2C909.6,1244.6 910.6,1248.9 912.8,1252.7C915.6,1257.5 920.7,1263.4 923.4,1268.5C925.7,1272.7 926.8,1276.3 928.6,1280.8C930.8,1286.1 933.3,1292.7 935.7,1298.4C938.0,1303.8 940.0,1308.7 942.7,1314.2C945.7,1320.4 949.3,1326.9 953.2,1333.5C957.5,1340.8 962.1,1348.8 967.3,1356.3C972.6,1364.1 979.5,1372.0 984.8,1379.2C989.3,1385.4 992.8,1390.7 997.1,1396.7C1001.6,1403.0 1005.9,1409.8 1011.2,1416.0C1016.9,1422.7 1023.3,1430.4 1030.3,1435.3C1036.7,1439.8 1044.3,1441.4 1051.2,1445.0C1058.2,1448.7 1065.1,1453.2 1072.0,1457.5C1079.0,1461.8 1085.7,1467.0 1092.8,1470.7C1099.6,1474.3 1106.7,1476.7 1113.7,1479.7C1120.6,1482.7 1128.4,1485.5 1134.5,1488.8C1139.7,1491.6 1143.8,1494.8 1148.4,1497.8C1153.0,1500.8 1157.7,1503.8 1162.3,1506.8C1166.9,1509.8 1171.4,1513.4 1176.2,1515.9C1180.7,1518.2 1185.2,1519.7 1190.1,1521.4C1195.4,1523.2 1201.2,1524.1 1206.8,1526.3C1212.8,1528.7 1219.0,1532.8 1224.8,1535.3C1230.0,1537.5 1236.0,1538.6 1240.0,1540.6C1242.9,1542.0 1243.9,1543.5 1246.9,1545.2C1251.9,1548.0 1260.2,1552.0 1267.8,1554.9C1276.3,1558.1 1286.3,1560.9 1295.6,1563.2C1304.8,1565.5 1314.1,1566.8 1323.4,1568.8C1332.7,1570.8 1341.9,1573.7 1351.2,1575.0C1360.4,1576.3 1370.4,1575.6 1379.0,1576.4C1386.5,1577.1 1393.6,1577.7 1399.8,1579.2C1405.0,1580.4 1410.6,1583.2 1413.7,1584.1C1415.2,1584.5 1416.0,1584.7 1417.2,1584.8C1418.3,1584.9 1419.5,1585.0 1420.7,1584.6C1421.9,1584.3 1422.9,1582.9 1424.1,1582.7C1425.3,1582.5 1426.5,1583.6 1427.6,1583.4C1428.8,1583.2 1429.9,1581.9 1431.0,1581.5C1432.2,1581.2 1433.4,1581.1 1434.5,1581.3C1435.7,1581.5 1436.8,1582.2 1438.0,1582.5C1439.1,1582.7 1440.3,1582.7 1441.5,1582.8C1442.6,1582.9 1443.8,1583.1 1444.9,1583.2C1446.1,1583.3 1447.2,1583.5 1448.4,1583.4C1449.6,1583.3 1450.7,1582.7 1451.9,1582.7C1453.0,1582.6 1454.2,1582.9 1455.3,1582.9C1456.5,1582.9 1457.7,1582.7 1458.8,1582.6C1460.0,1582.4 1461.1,1582.1 1462.3,1582.0C1463.5,1581.9 1464.6,1582.2 1465.8,1582.0C1466.9,1581.8 1468.1,1581.1 1469.2,1581.0C1470.4,1580.9 1471.6,1581.3 1472.7,1581.3C1473.9,1581.4 1474.7,1581.4 1476.2,1581.3C1479.3,1581.1 1486.9,1579.0 1490.0,1579.5C1491.7,1579.8 1492.3,1580.6 1493.7,1581.4C1495.6,1582.4 1498.5,1585.5 1500.3,1585.1C1501.9,1584.8 1503.1,1580.2 1504.0,1580.4C1504.9,1580.6 1504.5,1584.8 1505.9,1586.1C1507.5,1587.5 1511.5,1588.7 1513.4,1588.0C1515.2,1587.3 1515.9,1582.5 1517.2,1582.4C1518.4,1582.3 1519.6,1586.1 1520.9,1586.1C1522.4,1586.1 1523.7,1582.4 1525.6,1581.4C1527.7,1580.4 1531.2,1581.5 1533.1,1580.4C1534.8,1579.4 1535.5,1577.4 1536.8,1575.8C1538.3,1574.0 1540.0,1572.2 1541.5,1570.1C1543.1,1567.8 1544.4,1564.2 1546.2,1562.7C1547.6,1561.5 1549.5,1561.9 1550.9,1560.8C1552.7,1559.4 1554.3,1556.8 1555.5,1554.2C1556.9,1551.2 1556.7,1546.1 1558.4,1543.9C1559.6,1542.3 1561.9,1542.6 1563.0,1541.1C1564.3,1539.4 1564.0,1536.2 1564.9,1533.6C1565.9,1530.6 1567.8,1527.5 1568.7,1524.3C1569.6,1521.2 1569.9,1518.4 1570.5,1514.9C1571.2,1510.7 1571.7,1505.0 1572.4,1500.9C1573.0,1497.7 1573.7,1495.6 1574.3,1492.4C1575.0,1488.1 1575.5,1482.4 1576.1,1477.5C1576.7,1472.7 1577.4,1468.1 1578.0,1463.4C1578.6,1458.7 1579.4,1453.6 1579.9,1449.4C1580.3,1446.0 1580.5,1444.3 1580.8,1440.0C1581.4,1430.2 1581.7,1407.0 1582.3,1392.3C1582.8,1379.7 1583.3,1368.8 1584.0,1357.1C1584.7,1345.4 1585.6,1333.2 1586.4,1322.0C1587.1,1311.8 1588.0,1301.5 1588.7,1292.7C1589.3,1285.4 1589.2,1277.2 1590.5,1272.8C1591.2,1270.4 1592.2,1267.9 1593.4,1267.5C1594.4,1267.2 1595.9,1268.2 1596.9,1269.3C1598.3,1270.9 1599.0,1274.5 1599.8,1277.5C1600.8,1281.0 1601.4,1285.2 1602.2,1289.2C1603.0,1293.4 1603.7,1298.5 1604.5,1302.1C1605.1,1304.8 1605.6,1309.1 1606.3,1309.1C1607.1,1309.1 1607.7,1302.4 1609.2,1300.9C1610.2,1300.0 1611.7,1300.7 1612.7,1299.7C1614.3,1298.1 1615.3,1293.9 1616.2,1290.4C1617.4,1286.0 1617.8,1280.4 1618.6,1275.1C1619.4,1269.5 1620.1,1263.4 1620.9,1257.6C1621.7,1251.7 1622.7,1247.3 1623.3,1240.0C1624.3,1227.9 1623.9,1211.0 1624.5,1191.5C1625.5,1162.0 1627.7,1117.3 1629.0,1080.2C1630.3,1043.1 1631.2,1004.0 1632.3,969.0C1633.3,937.7 1634.5,908.3 1635.2,880.0C1635.8,854.3 1635.8,831.6 1636.3,806.4C1636.8,779.8 1637.7,749.8 1638.4,724.4C1639.0,702.5 1639.1,680.6 1640.4,663.0C1641.4,649.7 1643.2,628.1 1644.5,628.1C1646.0,628.1 1647.6,657.7 1648.6,673.2C1649.7,689.7 1650.0,706.5 1650.7,724.4C1651.4,744.0 1652.0,765.5 1652.7,786.0C1653.4,806.5 1654.2,829.4 1654.8,847.4C1655.3,861.5 1655.6,870.0 1656.0,885.0C1656.6,907.4 1657.2,940.6 1657.9,969.0C1658.6,998.2 1659.0,1031.3 1660.1,1058.0C1661.0,1080.0 1662.5,1118.0 1663.5,1118.0C1664.7,1118.0 1665.7,1063.7 1666.8,1035.7C1667.9,1006.6 1667.9,968.7 1670.1,946.7C1671.4,933.6 1673.4,915.6 1675.3,915.6C1677.4,915.6 1680.6,939.3 1682.4,953.4C1684.7,971.1 1685.4,992.9 1686.8,1013.5C1688.3,1035.2 1689.9,1057.8 1691.3,1080.2C1692.7,1103.0 1693.8,1124.5 1695.3,1149.0C1697.0,1177.2 1698.8,1213.2 1701.0,1240.0C1702.8,1261.2 1705.2,1277.1 1706.9,1296.9C1708.7,1318.3 1710.0,1342.5 1711.3,1363.8C1712.5,1383.2 1711.9,1407.4 1714.7,1419.5C1716.1,1425.7 1718.8,1433.1 1720.3,1432.9C1722.7,1432.6 1723.4,1410.4 1724.7,1397.2C1726.4,1380.7 1728.1,1359.0 1729.2,1341.5C1730.2,1325.8 1730.7,1312.7 1731.4,1296.9C1732.2,1279.1 1732.8,1263.0 1733.5,1240.0C1734.6,1204.5 1735.8,1147.6 1736.7,1104.7C1737.5,1065.8 1738.1,1028.5 1738.9,993.5C1739.6,962.2 1740.5,927.3 1741.2,904.5C1741.6,890.3 1742.1,882.4 1742.3,870.0C1742.6,855.4 1742.2,839.8 1742.5,822.5C1742.9,801.7 1743.8,775.7 1744.8,754.0C1745.7,734.4 1747.1,698.0 1748.2,698.0C1749.0,698.0 1749.8,718.1 1750.5,731.1C1751.5,749.8 1752.1,777.5 1752.8,799.6C1753.4,820.4 1753.9,837.9 1754.5,860.0C1755.2,886.8 1755.7,921.5 1756.7,949.0C1757.6,972.8 1759.1,995.7 1760.1,1015.7C1760.9,1032.0 1761.2,1060.2 1762.3,1060.2C1763.4,1060.2 1765.5,1033.1 1766.8,1015.7C1768.6,991.1 1770.1,953.0 1771.2,926.7C1772.1,905.7 1772.7,888.1 1773.3,870.0C1773.8,853.5 1774.1,841.8 1774.5,822.5C1775.2,792.7 1776.2,746.4 1776.8,708.3C1777.4,670.3 1777.4,631.4 1777.9,594.2C1778.3,558.6 1779.2,521.9 1779.5,489.7C1779.7,461.9 1779.5,437.9 1779.7,412.2C1779.9,386.9 1780.5,361.9 1780.8,336.7C1781.1,311.6 1781.2,288.2 1781.5,261.3C1781.8,230.2 1782.3,188.4 1782.8,160.6C1783.2,141.0 1783.3,125.6 1784.0,110.3C1784.6,97.5 1785.7,75.1 1786.5,75.1C1787.4,75.1 1788.3,97.5 1789.1,110.3C1790.0,125.6 1791.0,142.1 1791.6,160.6C1792.3,183.2 1792.4,210.9 1792.8,236.1C1793.2,261.3 1793.6,286.4 1794.1,311.6C1794.6,336.7 1795.2,359.9 1795.8,387.0C1796.5,418.6 1797.2,457.4 1797.9,489.7C1798.5,518.5 1799.0,543.3 1799.6,571.3C1800.3,600.9 1801.3,634.3 1801.9,662.6C1802.4,687.1 1802.4,708.3 1803.0,731.1C1803.6,753.9 1804.5,776.6 1805.3,799.6C1806.1,822.9 1806.7,845.9 1807.6,870.0C1808.6,895.6 1810.2,925.5 1811.2,949.0C1812.0,967.9 1812.5,984.3 1813.4,1000.0C1814.2,1013.5 1815.2,1023.7 1816.2,1037.5C1817.4,1054.3 1818.8,1074.9 1820.0,1093.6C1821.3,1112.3 1822.3,1133.0 1823.7,1149.8C1824.9,1163.6 1826.2,1174.8 1827.5,1187.3C1828.7,1199.8 1829.8,1213.8 1831.2,1224.7C1832.3,1233.2 1833.1,1242.3 1834.9,1247.2C1835.9,1249.8 1837.1,1252.9 1838.3,1252.8C1840.1,1252.7 1842.4,1243.7 1844.3,1239.7C1845.9,1236.3 1847.8,1234.7 1849.0,1230.3C1851.3,1221.3 1850.4,1202.6 1850.9,1187.3C1851.5,1169.8 1851.7,1149.0 1852.2,1131.1C1852.7,1114.8 1853.0,1096.4 1853.7,1084.3C1854.1,1076.6 1854.8,1065.5 1855.2,1065.5C1855.8,1065.5 1856.0,1089.8 1856.5,1103.0C1857.1,1117.7 1857.9,1132.4 1858.4,1149.8C1859.0,1171.8 1859.2,1200.0 1859.7,1224.7C1860.2,1249.0 1860.2,1275.7 1861.2,1296.9C1862.0,1313.6 1863.1,1330.0 1864.6,1341.5C1865.6,1348.8 1866.2,1353.7 1867.9,1359.3C1869.6,1364.8 1872.7,1368.2 1874.6,1374.9C1877.7,1385.8 1878.5,1407.7 1881.3,1419.5C1883.2,1427.6 1884.8,1433.8 1888.0,1439.6C1890.9,1444.8 1896.2,1447.6 1899.1,1453.0C1902.4,1459.2 1903.0,1467.6 1905.8,1475.3C1908.9,1483.9 1913.2,1501.8 1917.0,1502.0C1920.0,1502.2 1923.6,1493.2 1925.9,1486.4C1929.5,1475.6 1929.8,1458.2 1931.4,1441.8C1933.3,1421.8 1934.6,1397.2 1935.9,1374.9C1937.2,1352.6 1937.3,1327.3 1939.3,1308.0C1940.8,1293.2 1942.6,1269.4 1945.5,1269.0C1947.2,1268.7 1949.8,1275.9 1951.5,1281.3C1954.3,1290.3 1955.4,1306.6 1957.1,1319.2C1958.8,1331.8 1959.3,1346.2 1961.5,1357.1C1963.3,1365.6 1964.5,1377.6 1968.2,1379.4C1970.6,1380.6 1974.6,1377.8 1977.2,1376.0C1979.9,1374.1 1981.6,1370.8 1983.8,1368.2C1985.9,1365.6 1988.2,1360.1 1990.1,1360.4C1992.4,1360.7 1994.6,1368.6 1996.1,1374.9C1998.6,1385.6 1998.4,1403.8 1999.5,1419.5C2000.7,1437.1 2001.6,1457.7 2002.8,1475.3C2003.8,1491.0 2004.7,1506.1 2006.1,1519.9C2007.3,1531.9 2008.7,1543.1 2010.6,1553.3C2012.2,1562.1 2013.8,1571.8 2016.2,1577.8C2017.7,1581.6 2019.7,1586.8 2021.3,1586.7C2023.3,1586.5 2025.0,1577.1 2026.7,1571.1C2029.0,1563.0 2031.0,1551.2 2033.4,1542.2C2035.5,1534.2 2038.0,1519.9 2040.1,1519.9C2042.4,1520.0 2044.6,1537.7 2046.8,1546.6C2049.0,1555.5 2049.9,1566.1 2053.4,1573.4C2056.3,1579.3 2060.9,1587.5 2064.6,1587.9C2067.6,1588.2 2070.7,1583.3 2073.5,1580.1C2076.7,1576.4 2079.3,1566.8 2082.4,1566.7C2085.3,1566.6 2088.3,1577.3 2091.3,1577.8C2093.5,1578.2 2096.3,1575.9 2098.0,1573.4C2100.8,1569.4 2101.3,1561.4 2102.5,1553.3C2104.3,1541.4 2104.8,1525.1 2105.8,1508.7C2107.1,1488.7 2108.0,1465.0 2109.2,1441.8C2110.5,1416.8 2112.2,1386.8 2113.6,1363.8C2114.7,1345.5 2115.7,1327.7 2117.0,1314.7C2117.9,1306.2 2118.9,1293.5 2119.9,1293.5C2121.2,1293.5 2122.6,1316.7 2123.7,1330.3C2125.1,1347.0 2126.0,1365.9 2127.0,1386.1C2128.2,1409.9 2129.0,1442.4 2130.4,1464.1C2131.4,1479.7 2132.6,1504.3 2133.7,1504.3C2134.9,1504.3 2136.1,1473.4 2137.1,1453.0C2138.5,1423.0 2139.5,1377.8 2140.4,1341.5C2141.3,1306.9 2141.6,1270.1 2142.4,1240.0C2143.0,1216.0 2143.7,1175.1 2144.5,1175.1C2145.3,1175.1 2146.4,1216.0 2147.0,1240.0C2147.8,1270.1 2147.4,1308.8 2148.2,1341.5C2148.9,1372.2 2150.4,1401.0 2151.5,1430.7C2152.6,1460.4 2153.2,1500.8 2154.9,1519.9C2155.7,1529.0 2156.5,1539.8 2157.8,1539.9C2159.1,1540.0 2161.4,1529.0 2162.7,1519.9C2165.4,1500.9 2165.3,1462.1 2166.0,1430.7C2166.8,1395.6 2166.8,1353.2 2167.2,1319.2C2167.6,1290.5 2168.0,1270.8 2168.3,1240.0C2168.7,1197.0 2168.8,1133.8 2169.2,1085.3C2169.6,1042.3 2170.1,1000.3 2170.7,963.5C2171.2,933.0 2171.6,879.8 2172.2,879.8C2172.8,879.8 2173.8,933.0 2174.4,963.5C2175.1,1000.3 2175.5,1037.2 2175.9,1085.3C2176.5,1155.0 2176.0,1273.6 2177.2,1341.5C2178.0,1386.3 2178.6,1424.2 2180.5,1453.0C2181.7,1471.2 2182.3,1488.1 2185.0,1497.6C2186.4,1502.4 2188.5,1504.4 2190.0,1508.0C2191.5,1511.8 2192.7,1515.8 2193.9,1519.9C2195.2,1524.2 2196.1,1530.0 2197.6,1533.2C2198.5,1535.2 2199.7,1535.5 2200.6,1537.7C2202.4,1542.0 2203.1,1558.2 2205.1,1558.4C2206.9,1558.6 2209.9,1548.9 2211.8,1542.2C2214.6,1532.1 2216.3,1514.9 2217.7,1502.9C2218.9,1492.9 2218.5,1483.4 2220.0,1475.3C2221.3,1468.6 2223.7,1457.4 2225.3,1457.5C2227.7,1457.6 2229.9,1483.4 2231.6,1495.3C2233.2,1505.9 2233.4,1516.0 2235.4,1525.6C2237.3,1534.5 2238.4,1547.0 2243.0,1550.8C2246.2,1553.4 2251.9,1550.5 2255.6,1552.1C2259.4,1553.8 2262.3,1557.4 2265.7,1560.9C2269.8,1565.1 2274.7,1570.9 2278.3,1576.1C2281.7,1581.0 2284.8,1591.5 2287.1,1591.2C2289.6,1590.8 2290.8,1579.3 2292.2,1571.0C2294.3,1558.0 2294.7,1539.1 2296.0,1520.6C2297.6,1497.9 2299.1,1463.9 2301.0,1444.9C2302.2,1433.3 2303.5,1417.1 2304.8,1417.1C2306.1,1417.1 2307.3,1436.1 2308.6,1444.9C2309.8,1452.9 2311.1,1467.6 2312.4,1467.6C2313.6,1467.6 2315.1,1447.4 2316.1,1447.4C2317.2,1447.4 2318.0,1460.3 2318.7,1470.1C2320.0,1487.9 2320.4,1522.8 2321.2,1545.8C2321.9,1565.0 2322.5,1581.1 2323.2,1598.8" fill="none" stroke="#0000ff" stroke-width="3.2" stroke-linejoin="round"/>
<g stroke="#000" stroke-width="7" stroke-linecap="butt"><line x1="275" y1="60.5" x2="2324" y2="60.5"/><line x1="275.5" y1="60" x2="275.5" y2="1646"/><line x1="2323.5" y1="60" x2="2323.5" y2="1614.6"/><line x1="272" y1="1614.5" x2="2324" y2="1614.5"/></g>
<line x1="275.5" y1="1614" x2="275.5" y2="1646" stroke="#000" stroke-width="7"/>
<text transform="translate(275.50 1720.2) scale(0.952 1)" font-size="68.9" text-anchor="middle" fill="#000">4000</text>
<line x1="419.7" y1="1614" x2="419.7" y2="1631" stroke="#000" stroke-width="7"/>
<line x1="563.9" y1="1614" x2="563.9" y2="1646" stroke="#000" stroke-width="7"/>
<text transform="translate(563.93 1720.2) scale(0.952 1)" font-size="68.9" text-anchor="middle" fill="#000">3500</text>
<line x1="708.1" y1="1614" x2="708.1" y2="1631" stroke="#000" stroke-width="7"/>
<line x1="852.4" y1="1614" x2="852.4" y2="1646" stroke="#000" stroke-width="7"/>
<text transform="translate(852.36 1720.2) scale(0.952 1)" font-size="68.9" text-anchor="middle" fill="#000">3000</text>
<line x1="996.6" y1="1614" x2="996.6" y2="1631" stroke="#000" stroke-width="7"/>
<line x1="1140.8" y1="1614" x2="1140.8" y2="1646" stroke="#000" stroke-width="7"/>
<text transform="translate(1140.79 1720.2) scale(0.952 1)" font-size="68.9" text-anchor="middle" fill="#000">2500</text>
<line x1="1285.0" y1="1614" x2="1285.0" y2="1631" stroke="#000" stroke-width="7"/>
<line x1="1429.2" y1="1614" x2="1429.2" y2="1646" stroke="#000" stroke-width="7"/>
<text transform="translate(1429.22 1720.2) scale(0.952 1)" font-size="68.9" text-anchor="middle" fill="#000">2000</text>
<line x1="1573.4" y1="1614" x2="1573.4" y2="1631" stroke="#000" stroke-width="7"/>
<line x1="1717.7" y1="1614" x2="1717.7" y2="1646" stroke="#000" stroke-width="7"/>
<text transform="translate(1717.65 1720.2) scale(0.952 1)" font-size="68.9" text-anchor="middle" fill="#000">1500</text>
<line x1="1861.9" y1="1614" x2="1861.9" y2="1631" stroke="#000" stroke-width="7"/>
<line x1="2006.1" y1="1614" x2="2006.1" y2="1646" stroke="#000" stroke-width="7"/>
<text transform="translate(2006.08 1720.2) scale(0.952 1)" font-size="68.9" text-anchor="middle" fill="#000">1000</text>
<line x1="2150.3" y1="1614" x2="2150.3" y2="1631" stroke="#000" stroke-width="7"/>
<line x1="2294.5" y1="1614" x2="2294.5" y2="1646" stroke="#000" stroke-width="7"/>
<text transform="translate(2294.51 1720.2) scale(0.952 1)" font-size="68.9" text-anchor="middle" fill="#000">500</text>
<g stroke="#000" stroke-linecap="butt"><line x1="307" y1="90.5" x2="1053" y2="90.5" stroke-width="3"/><line x1="307" y1="398.4" x2="1053" y2="398.4" stroke-width="3"/><line x1="1051.5" y1="89" x2="1051.5" y2="399.9" stroke-width="3"/><line x1="309" y1="89" x2="309" y2="399.9" stroke-width="4"/></g>
<line x1="358.6" y1="148.8" x2="539.3" y2="148.8" stroke="#000000" stroke-width="3"/>
<line x1="358.6" y1="249.9" x2="539.3" y2="249.9" stroke="#ff0000" stroke-width="3"/>
<line x1="358.6" y1="351" x2="539.3" y2="351" stroke="#0000ff" stroke-width="3"/>
<text transform="translate(403.83 682.36) scale(0.9604 1)" font-size="64.23" fill="#0000ff">3438</text>
<text transform="translate(710.03 706.15) scale(0.9459 1)" font-size="65.21" fill="#0000ff">3389</text>
<text transform="translate(375.53 888.65) scale(0.9563 1)" font-size="64.51" fill="#000000">3417</text>
<text transform="translate(916.63 999.95) scale(0.9436 1)" font-size="65.07" fill="#0000ff">2964</text>
<text transform="translate(976.01 1207.21) scale(0.9809 1)" font-size="59.01" fill="#ff0000">2943</text>
<text transform="translate(1342.40 853.54) scale(0.9323 1)" font-size="65.63" fill="#0000ff">1573</text>
<text transform="translate(1379.34 1017.75) scale(0.9338 1)" font-size="65.07" fill="#000000">1576</text>
<text transform="translate(1326.95 1192.24) scale(0.9131 1)" font-size="66.34" fill="#0000ff">1720</text>
<text transform="translate(1324.66 1267.35) scale(0.9362 1)" font-size="64.65" fill="#000000">1716</text>
<text transform="translate(1341.12 1394.75) scale(0.9192 1)" font-size="65.07" fill="#0000ff">1734</text>
<line x1="495.0" y1="710.3" x2="569.8" y2="803.1" stroke="#0000ff" stroke-width="3.2"/><polygon points="593.0,831.9 560.0,808.4 577.1,794.6" fill="#0000ff"/>
<line x1="694.6" y1="728.8" x2="649.5" y2="813.2" stroke="#0000ff" stroke-width="3.2"/><polygon points="632.1,845.8 640.8,806.2 660.2,816.6" fill="#0000ff"/>
<line x1="516.3" y1="889.8" x2="579.7" y2="988.8" stroke="#000000" stroke-width="3.2"/><polygon points="599.7,1020.0 569.4,993.1 587.9,981.2" fill="#000000"/>
<line x1="932.9" y1="1032.4" x2="902.1" y2="1074.5" stroke="#0000ff" stroke-width="3.2"/><polygon points="880.2,1104.3 894.4,1066.3 912.1,1079.3" fill="#0000ff"/>
<line x1="977.8" y1="1224.5" x2="926.9" y2="1251.9" stroke="#ff0000" stroke-width="3.2"/><polygon points="894.3,1269.5 923.4,1241.3 933.9,1260.7" fill="#ff0000"/>
<line x1="1483.7" y1="850.7" x2="1627.6" y2="903.7" stroke="#0000ff" stroke-width="3.2"/><polygon points="1662.3,916.5 1621.9,913.3 1629.5,892.7" fill="#0000ff"/>
<line x1="1525.0" y1="996.8" x2="1642.5" y2="1044.2" stroke="#000000" stroke-width="3.2"/><polygon points="1676.8,1058.0 1636.5,1053.6 1644.7,1033.2" fill="#000000"/>
<line x1="1477.9" y1="1208.2" x2="1557.4" y2="1249.6" stroke="#0000ff" stroke-width="3.2"/><polygon points="1590.2,1266.7 1550.5,1258.4 1560.7,1238.9" fill="#0000ff"/>
<line x1="1477.9" y1="1248.4" x2="1558.6" y2="1288.2" stroke="#000000" stroke-width="3.2"/><polygon points="1591.8,1304.6 1552.0,1297.2 1561.7,1277.5" fill="#000000"/>
<line x1="1477.9" y1="1375.4" x2="1537.3" y2="1401.0" stroke="#0000ff" stroke-width="3.2"/><polygon points="1571.3,1415.6 1531.1,1410.3 1539.8,1390.1" fill="#0000ff"/>
<text transform="translate(560.69 178.24) scale(0.9344 1)" font-size="85.77" fill="#000">Fe-BTC</text>
<text transform="translate(560.30 278.70) scale(0.9300 1)" font-size="85.90" fill="#000">Paclitaxel</text>
<text transform="translate(560.34 380.14) scale(0.9371 1)" font-size="86.20" fill="#000">Fe-BTC-PTX</text>
<text transform="translate(128.20 1068.70) rotate(-90) scale(1.0339 1)" font-size="79.86" fill="#000">Absorbance</text>
<text transform="translate(947.80 1859.49) scale(0.9796 1)" font-size="81.35" fill="#000">wavenumbers</text>
<text transform="translate(1466.62 1858.42) scale(0.9147 1)" font-size="79.89" fill="#000">(</text>
<text transform="translate(1494.85 1859.13) scale(0.9501 1)" font-size="67.09" fill="#000">cm</text>
<text transform="translate(1627.27 1858.42) scale(0.9195 1)" font-size="79.89" fill="#000">)</text>
<text transform="translate(1582.10 1819.00) scale(0.9500 1)" font-size="50.72" fill="#000">-1</text>
</svg>
</body></html>
